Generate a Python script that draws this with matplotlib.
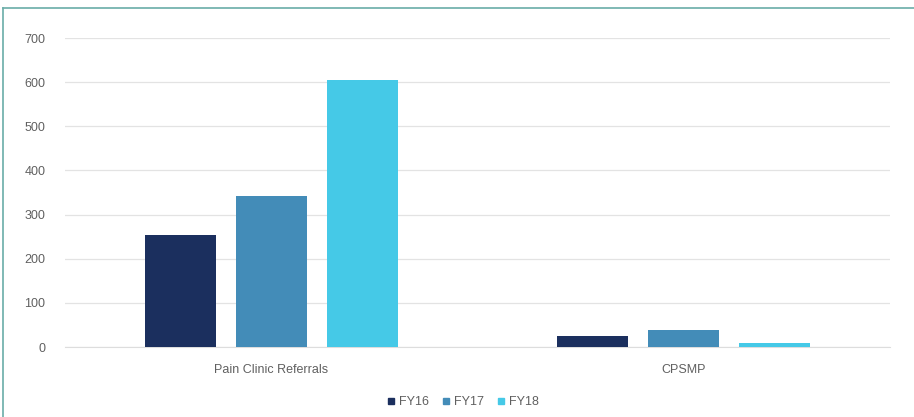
import matplotlib
matplotlib.use("Agg")
import matplotlib.pyplot as plt
import numpy as np
from matplotlib.lines import Line2D

categories = ["Pain Clinic Referrals", "CPSMP"]
series_names = ["FY16", "FY17", "FY18"]
fy16 = [254, 26]
fy17 = [343, 38]
fy18 = [605, 10]
colors = ["#1B2F5E", "#438CB8", "#45C9E7"]
y_ticks = [0, 100, 200, 300, 400, 500, 600, 700]

plt.rcParams["font.family"] = ["Liberation Sans", "DejaVu Sans"]
text_color = "#606060"

fig = plt.figure(figsize=(9.14, 4.17), dpi=100)
W, H = 914, 417
ax = fig.add_axes([65 / W, 1 - 347 / H, 825 / W, (347 - 38) / H])

x = np.arange(len(categories))
width = 0.172
offsets = [-0.221, 0.0, 0.221]
for vals, off, col, name in zip([fy16, fy17, fy18], offsets, colors, series_names):
    ax.bar(x + off, vals, width=width, color=col, label=name, zorder=3)

ax.set_xlim(-0.5, 1.5)
ax.set_ylim(0, 700)
ax.set_yticks(y_ticks)
ax.set_yticklabels([str(t) for t in y_ticks], fontsize=9, color=text_color)
ax.set_xticks(x)
ax.set_xticklabels(categories, fontsize=9, color=text_color)
ax.tick_params(axis="both", length=0)
ax.tick_params(axis="y", pad=14)
ax.tick_params(axis="x", pad=12)
ax.grid(axis="y", color="#E3E3E3", linewidth=0.9, zorder=0)
for s in ax.spines.values():
    s.set_visible(False)
ax.spines["bottom"].set_visible(True)
ax.spines["bottom"].set_color("#DDDDDD")

handles = [Line2D([0], [0], marker="s", linestyle="none", markersize=5,
                  markerfacecolor=c, markeredgecolor=c) for c in colors]
fig.legend(handles, series_names, loc="center", bbox_to_anchor=(461 / W, 1 - 402 / H),
           ncol=3, frameon=False, fontsize=9, handletextpad=0.0, columnspacing=0.8,
           handlelength=1.2, labelcolor=text_color)

# thin teal frame along the top and left edges
frame = "#6AADA8"
fig.add_artist(Line2D([3 / W, 3 / W], [0, 1 - 8 / H], transform=fig.transFigure,
                      color=frame, linewidth=1.2))
fig.add_artist(Line2D([3 / W, 1], [1 - 8 / H, 1 - 8 / H], transform=fig.transFigure,
                      color=frame, linewidth=1.2))

fig.savefig("out.png", dpi=100, facecolor="white")
